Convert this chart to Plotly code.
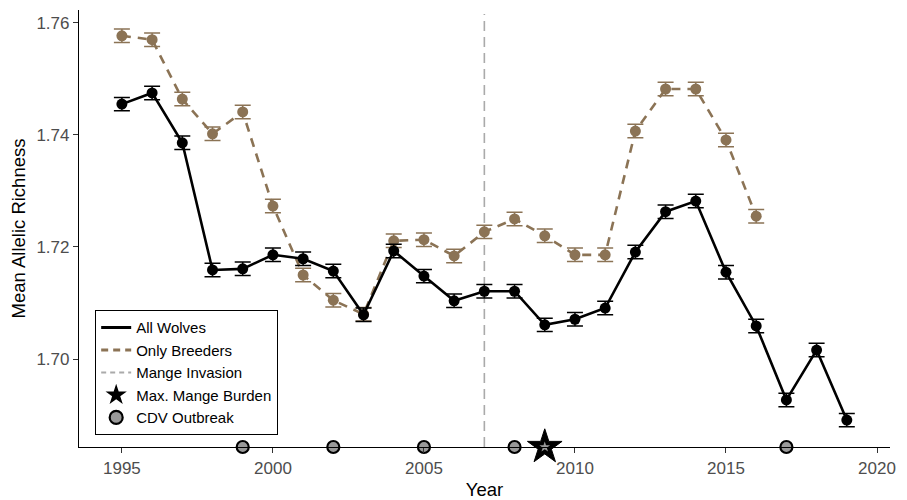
import plotly.graph_objects as go

years = list(range(1995, 2020))
all_wolves = [1.7455, 1.7475, 1.7386, 1.7159, 1.7161, 1.7186, 1.7179, 1.7157, 1.7079, 1.7193,
              1.7148, 1.7104, 1.7121, 1.7121, 1.7061, 1.7071, 1.7091, 1.7191, 1.7263, 1.7282,
              1.7155, 1.7059, 1.6927, 1.7016, 1.6891]
all_err = [0.0012] * len(all_wolves)

breeder_years = list(range(1995, 2017))
breeders = [1.7577, 1.7570, 1.7464, 1.7402, 1.7441, 1.7273, 1.7150, 1.7105, 1.7080, 1.7211,
            1.7213, 1.7184, 1.7227, 1.7250, 1.7220, 1.7186, 1.7186, 1.7407, 1.7482, 1.7482,
            1.7391, 1.7255]
breeder_err = [0.0012] * len(breeders)

mange_invasion_year = 2007
max_mange_year = [2009]
cdv_years = [1999, 2002, 2005, 2008, 2017]

y_min, y_max = 1.6843, 1.7623
x_min, x_max = 1993.58, 2020.43

BROWN = "#8b7355"
font_family = "Liberation Sans, Arial, sans-serif"

fig = go.Figure()

# Mange invasion line
fig.add_trace(go.Scatter(
    x=[mange_invasion_year, mange_invasion_year], y=[y_min, 1.7616],
    mode="lines", line=dict(color="#aaaaaa", width=1.6, dash="10px,6px"),
    showlegend=False, hoverinfo="skip"))

fig.add_trace(go.Scatter(
    x=breeder_years, y=breeders, mode="lines+markers",
    line=dict(color=BROWN, width=2.6, dash="9px,7px"),
    marker=dict(color=BROWN, size=11),
    error_y=dict(type="data", array=breeder_err, color=BROWN, thickness=1.5, width=8),
    showlegend=False))

fig.add_trace(go.Scatter(
    x=years, y=all_wolves, mode="lines+markers",
    line=dict(color="black", width=2.6),
    marker=dict(color="black", size=11),
    error_y=dict(type="data", array=all_err, color="black", thickness=1.5, width=8),
    showlegend=False))

# events on axis
fig.add_trace(go.Scatter(
    x=cdv_years, y=[y_min] * len(cdv_years), mode="markers",
    marker=dict(symbol="circle", size=12, color="#999999", line=dict(color="black", width=2.2)),
    cliponaxis=False, showlegend=False))
fig.add_trace(go.Scatter(
    x=max_mange_year, y=[y_min] * len(max_mange_year), mode="markers",
    marker=dict(symbol="star", size=26, color="black", line=dict(color="black", width=1)),
    cliponaxis=False, showlegend=False))
fig.add_trace(go.Scatter(
    x=max_mange_year, y=[y_min] * len(max_mange_year), mode="markers",
    marker=dict(symbol="star", size=8, color="#999999", line=dict(width=0)),
    cliponaxis=False, showlegend=False))

# legend entries
fig.add_trace(go.Scatter(x=[None], y=[None], mode="lines", name="All Wolves",
                         line=dict(color="black", width=3)))
fig.add_trace(go.Scatter(x=[None], y=[None], mode="lines", name="Only Breeders",
                         line=dict(color=BROWN, width=3, dash="7px,5px")))
fig.add_trace(go.Scatter(x=[None], y=[None], mode="lines", name="Mange Invasion",
                         line=dict(color="#aaaaaa", width=2, dash="5px,4px")))
fig.add_trace(go.Scatter(x=[None], y=[None], mode="markers", name="Max. Mange Burden",
                         marker=dict(symbol="star", size=18, color="black")))
fig.add_trace(go.Scatter(x=[None], y=[None], mode="markers", name="CDV Outbreak",
                         marker=dict(symbol="circle", size=13, color="#999999",
                                     line=dict(color="black", width=2.2))))

fig.update_layout(
    width=899, height=492,
    margin=dict(l=71, r=17, t=2, b=53),
    paper_bgcolor="white", plot_bgcolor="white",
    font=dict(family=font_family, size=17, color="#4d4d4d"),
    showlegend=True,
    legend=dict(x=0.0197, y=0.0275, xanchor="left", yanchor="bottom",
                bordercolor="black", borderwidth=1.2, bgcolor="white",
                font=dict(family=font_family, size=15, color="black"),
                tracegroupgap=0, itemwidth=30),
    xaxis=dict(range=[x_min, x_max], showgrid=False, zeroline=False, automargin=False,
               showline=True, linecolor="black", linewidth=1.2,
               ticks="outside", ticklen=5, tickcolor="#333333",
               tickvals=[1995, 2000, 2005, 2010, 2015, 2020],
               tickfont=dict(size=17, color="#4d4d4d"),
               title=dict(text="Year", font=dict(size=18.5, color="black"), standoff=8)),
    yaxis=dict(range=[y_min, y_max], showgrid=False, zeroline=False, automargin=False,
               showline=True, linecolor="black", linewidth=1.2,
               ticks="outside", ticklen=5, tickcolor="#333333",
               tickvals=[1.70, 1.72, 1.74, 1.76], tickformat=".2f",
               tickfont=dict(size=17, color="#4d4d4d"),
               title=dict(text="Mean Allelic Richness", font=dict(size=18.5, color="black"), standoff=8)),
)

fig.write_html("out.html")
